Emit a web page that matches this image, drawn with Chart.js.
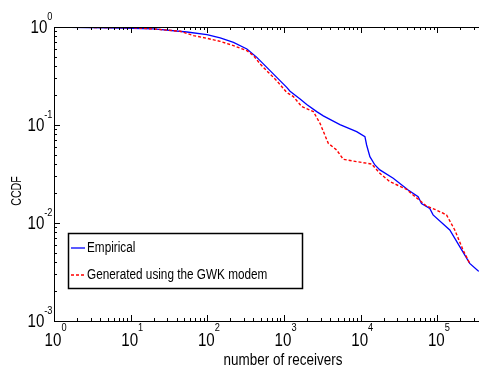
<!DOCTYPE html>
<html>
<head>
<meta charset="utf-8">
<script src="https://cdn.jsdelivr.net/npm/chart.js@4"></script>
<style>
  html, body { margin: 0; padding: 0; background: #fff; }
  #wrap { width: 479px; height: 372px; }
</style>
</head>
<body>
<div id="wrap"><canvas id="myChart" width="479" height="372"></canvas></div>
<script>
// data
const empiricalX = [1, 7.35, 19.95, 54.2, 98.9, 147.2, 219.3, 328.1, 442.6, 597, 805, 1086, 1200, 1622, 1982, 2673, 3258, 5370, 8872, 11376, 11970, 13210, 15350, 17820, 26610, 41690, 56230, 62230, 79800, 88100, 145500, 196300, 264900, 339600, 350000]
const empiricalY = [0.995, 0.977, 0.955, 0.889, 0.836, 0.773, 0.698, 0.597, 0.490, 0.387, 0.306, 0.242, 0.221, 0.184, 0.162, 0.137, 0.124, 0.101, 0.0855, 0.0760, 0.0625, 0.0475, 0.0391, 0.0348, 0.0286, 0.0217, 0.0186, 0.0158, 0.0141, 0.0121, 0.00849, 0.00573, 0.00387, 0.00326, 0.00322]

const generatedX = [1, 10, 19.95, 44.4, 66.1, 98.9, 147.2, 219.3, 328.1, 399.9, 488.7, 626.6, 805, 1086, 1324, 1706, 2415, 2951, 3784, 4864, 5943, 8872, 13900, 17820, 24040, 39720, 48420, 72280, 92680, 131800, 169000, 216800, 264900]
const generatedY = [0.995, 0.985, 0.955, 0.904, 0.817, 0.766, 0.714, 0.646, 0.574, 0.511, 0.419, 0.344, 0.283, 0.215, 0.195, 0.154, 0.137, 0.104, 0.0650, 0.0556, 0.0447, 0.0423, 0.0400, 0.0321, 0.0264, 0.0221, 0.0193, 0.0149, 0.0138, 0.0121, 0.00849, 0.00530, 0.00387]

const xDecades = [0, 1, 2, 3, 4, 5]
const yDecades = [-3, -2, -1, 0]
const seriesLabels = ['Empirical', 'Generated using the GWK modem']

const xMin = 1, xMax = 3.5e5
const yMin = 1e-3, yMax = 1

let toPoints = (xs, ys) => xs.map((x, i) => ({x: x, y: ys[i]}))

const FONT = '"Liberation Sans", Arial, sans-serif'

// text squeezed horizontally, the figure fonts are narrow
let narrowText = (ctx, txt, x, y, size, align, sx) => {
    ctx.save()
    ctx.font = size + 'px ' + FONT
    ctx.textAlign = align
    ctx.textBaseline = 'middle'
    ctx.translate(x, y)
    ctx.scale(sx, 1)
    ctx.fillText(txt, 0, 0)
    ctx.restore()
}
let narrowWidth = (ctx, txt, size, sx) => {
    ctx.save()
    ctx.font = size + 'px ' + FONT
    let w = ctx.measureText(txt).width * sx
    ctx.restore()
    return w
}

// axes, ticks, superscript labels and legend (matlab look)
const matlabAxes = {
    id: 'matlabAxes',
    afterDraw(chart) {
        const ctx = chart.ctx
        const xs = chart.scales.x
        const ys = chart.scales.y
        const a = chart.chartArea
        ctx.save()
        ctx.strokeStyle = '#000'
        ctx.lineWidth = 1

        // frame: left, top, bottom
        ctx.beginPath()
        ctx.moveTo(a.left + 0.5, a.top + 0.5)
        ctx.lineTo(a.left + 0.5, a.bottom + 0.5)
        ctx.moveTo(a.left, a.top + 0.5)
        ctx.lineTo(a.right + 2, a.top + 0.5)
        ctx.moveTo(a.left, a.bottom + 0.5)
        ctx.lineTo(a.right + 2, a.bottom + 0.5)
        ctx.stroke()

        // x ticks
        ctx.beginPath()
        for (let e of xDecades) {
            for (let m = 1; m <= 9; m++) {
                let v = m * Math.pow(10, e)
                if (v > xMax) break
                let px = Math.round(xs.getPixelForValue(v)) + 0.5
                let len = m === 1 ? 6 : 3
                ctx.moveTo(px, a.bottom)
                ctx.lineTo(px, a.bottom - len)
                ctx.moveTo(px, a.top)
                ctx.lineTo(px, a.top + len)
            }
        }
        // y ticks
        for (let e of yDecades) {
            for (let m = 1; m <= 9; m++) {
                let v = m * Math.pow(10, e)
                if (v > yMax) break
                let py = Math.round(ys.getPixelForValue(v)) + 0.5
                let len = m === 1 ? 6 : 3
                ctx.moveTo(a.left, py)
                ctx.lineTo(a.left + len, py)
            }
        }
        ctx.stroke()

        ctx.fillStyle = '#000'
        const sx = 0.84
        // x tick labels
        for (let e of xDecades) {
            let px = xs.getPixelForValue(Math.pow(10, e))
            let wb = narrowWidth(ctx, '10', 18, sx)
            narrowText(ctx, '10', px - 1 - wb / 2, a.bottom + 20, 18, 'left', sx)
            narrowText(ctx, String(e), px - 1 + wb / 2, a.bottom + 7, 11, 'left', sx)
        }
        // y tick labels
        for (let e of yDecades) {
            let py = ys.getPixelForValue(Math.pow(10, e))
            let ex = String(e)
            let we = narrowWidth(ctx, ex, 11, sx)
            narrowText(ctx, ex, a.left - 1.5 - we, py - 10, 11, 'left', sx)
            narrowText(ctx, '10', a.left - 1.5 - we, py + 1, 18, 'right', sx)
        }

        // axis titles
        narrowText(ctx, 'number of receivers', 283, 361, 16, 'center', sx)
        ctx.save()
        ctx.translate(17, 191)
        ctx.rotate(-Math.PI / 2)
        narrowText(ctx, 'CCDF', 0, 0, 14, 'center', 0.76)
        ctx.restore()

        // legend box
        const lx = 68.5, ly = 233.5, lw = 234, lh = 55
        ctx.fillStyle = '#fff'
        ctx.fillRect(lx, ly, lw, lh)
        ctx.strokeStyle = '#000'
        ctx.lineWidth = 1.5
        ctx.strokeRect(lx, ly, lw, lh)
        const rows = [248, 275]
        chart.data.datasets.forEach((ds, i) => {
            ctx.strokeStyle = ds.borderColor
            ctx.lineWidth = ds.borderWidth
            ctx.setLineDash(ds.borderDash || [])
            ctx.beginPath()
            ctx.moveTo(71, rows[i])
            ctx.lineTo(85, rows[i])
            ctx.stroke()
            ctx.setLineDash([])
            ctx.fillStyle = '#000'
            narrowText(ctx, ds.label, 87, rows[i], 14, 'left', 0.84)
        })
        ctx.restore()
    }
}

const data = {
    datasets: [{
        label: seriesLabels[0],
        data: toPoints(empiricalX, empiricalY),
        borderColor: '#0000ff',
        borderWidth: 1.3,
        pointRadius: 0,
        tension: 0,
        order: 1
    }, {
        label: seriesLabels[1],
        data: toPoints(generatedX, generatedY),
        borderColor: '#ff0000',
        borderWidth: 1.4,
        borderDash: [3, 2],
        pointRadius: 0,
        tension: 0,
        order: 0
    }]
}

const config = {
    type: 'line',
    data,
    options: {
        responsive: false,
        animation: false,
        devicePixelRatio: 1,
        layout: {
            padding: {left: 54, top: 27, right: 0, bottom: 51}
        },
        plugins: {
            legend: {display: false},
            tooltip: {enabled: false}
        },
        scales: {
            x: {type: 'logarithmic', min: xMin, max: xMax, display: false},
            y: {type: 'logarithmic', min: yMin, max: yMax, display: false}
        }
    },
    plugins: [matlabAxes]
}

const myChart = new Chart(document.getElementById('myChart'), config)
</script>
</body>
</html>
